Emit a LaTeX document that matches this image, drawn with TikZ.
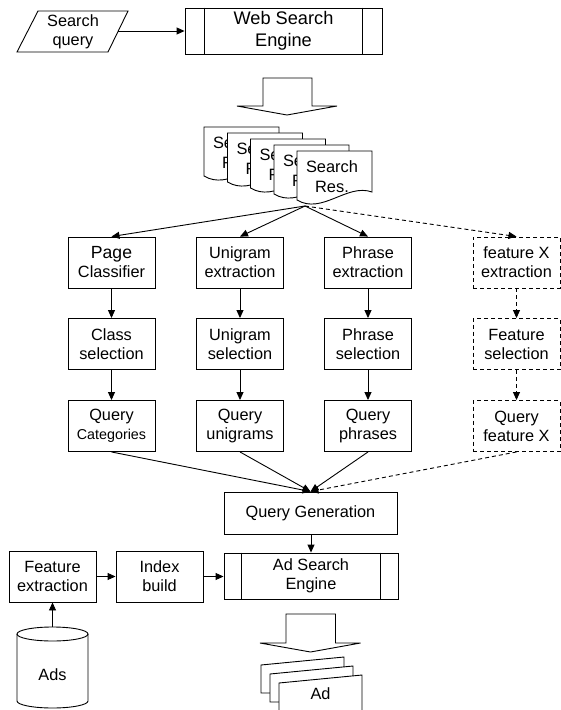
\documentclass[tikz,border=0pt]{standalone}
\usepackage{fontspec}
\setmainfont{Liberation Sans}
\usetikzlibrary{arrows.meta}
\newcommand{\fsz}[2]{\fontsize{#1pt}{#2pt}\selectfont}
\begin{document}
\begin{tikzpicture}[x=1pt,y=-1pt,
  line width=0.9pt,
  arr/.style={-{Triangle[length=8pt,width=7pt]}},
  dsh/.style={dash pattern=on 4pt off 3pt},
  box/.style={draw, fill=white, minimum width=87pt, minimum height=51pt, inner sep=0pt, align=center, font=\fsz{16.3}{19}},
  dbox/.style={box, dsh},
  proc/.style={draw, fill=white, inner sep=0pt, align=center, font=\fsz{16.3}{19}},
  lbl/.style={inner sep=0pt, align=center, font=\fsz{16.3}{19}}]
\useasboundingbox (0,0) rectangle (561,710);

% Search query parallelogram
\draw (38,11) -- (128,11) -- (108,52) -- (17,52) -- cycle;
\node[lbl] (sq) at (73,32) {Search\\query};
\coordinate (sqe) at (118,31);

% Web Search Engine
\node[proc, minimum width=197pt, minimum height=46pt, font=\fsz{18.2}{22}] (wse) at (283.5,31) {Web Search\\Engine};
\draw ([xshift=20pt]wse.north west) -- ([xshift=20pt]wse.south west);
\draw ([xshift=-20pt]wse.north east) -- ([xshift=-20pt]wse.south east);
\draw[arr] (sqe) -- (wse.west);

% block arrow top
\draw (263,78) -- (312,78) -- (312,106) -- (337,106) -- (287,115) -- (237,106) -- (263,106) -- cycle;

% stacked documents
\foreach \i/\x/\y in {1/204/127, 2/227.5/133, 3/250.5/139, 4/274/145, 5/297/151}{
  \draw[fill=white] (\x,\y) -- (\x+75,\y) -- (\x+75,\y+41)
     .. controls (\x+50,\y+32) and (\x+25,\y+64) .. (\x,\y+49) -- cycle;
  \node[lbl, font=\fsz{16.4}{20}] (doc\i) at (\x+35,\y+26) {Search\\Res.};
}
\coordinate (src) at (305,206);

% column boxes
\node[box] (pc) at (111.5,262.5) {{\fsz{17.6}{19}Page}\\Classifier};
\node[box] (ue) at (240,262.5) {Unigram\\extraction};
\node[box] (pe) at (368,262.5) {Phrase\\extraction};
\node[dbox] (fe) at (516.5,262.5) {feature X\\extraction};

\node[box] (cs) at (111.5,344) {Class\\selection};
\node[box] (us) at (240,344) {Unigram\\selection};
\node[box] (ps) at (368,344) {Phrase\\selection};
\node[dbox] (fs) at (516.5,344) {Feature\\selection};

\node[box] (qc) at (111.5,426) {Query\\{\fsz{14.3}{19}Categories}};
\node[box] (qu) at (240,426) {Query\\unigrams};
\node[box] (qp) at (368,426) {Query\\phrases};
\node[dbox] (qf) at (516.5,426) {Query\\feature X};

\draw[arr] (src) -- (pc.north);
\draw[arr] (src) -- (ue.north);
\draw[arr] (src) -- (pe.north);
\draw[arr, dsh] (src) -- (fe.north);

\draw[arr] (pc) -- (cs);
\draw[arr] (ue) -- (us);
\draw[arr] (pe) -- (ps);
\draw[arr, dsh] (fe) -- (fs);
\draw[arr] (cs) -- (qc);
\draw[arr] (us) -- (qu);
\draw[arr] (ps) -- (qp);
\draw[arr, dsh] (fs) -- (qf);

% Query generation
\node[proc, minimum width=173pt, minimum height=42pt] (qg) at (310.5,513) {Query Generation};
\draw[arr] (qc.south) -- (qg.north);
\draw[arr] (qu.south) -- (qg.north);
\draw[arr] (qp.south) -- (qg.north);
\draw[arr, dsh] (qf.south) -- (qg.north);

% Ad Search Engine
\node[proc, minimum width=174pt, minimum height=46pt] (ase) at (311,576) {Ad Search\\Engine};
\draw ([xshift=18pt]ase.north west) -- ([xshift=18pt]ase.south west);
\draw ([xshift=-18pt]ase.north east) -- ([xshift=-18pt]ase.south east);
\draw[arr] (qg.south -| ase.north) -- (ase.north);

% Feature extraction, Index build
\node[box] (fx) at (52.5,576.5) {Feature\\extraction};
\node[box] (ib) at (159.5,576.5) {Index\\build};
\draw[arr] (fx.east) -- (ib.west);
\draw[arr] (ib.east) -- (ase.west |- ib.east);

% Ads cylinder
\draw[fill=white] (17,634) -- (17,701) arc[start angle=180, end angle=360, x radius=35.5, y radius=-7] -- (88,634);
\draw (52.5,634) ellipse[x radius=35.5, y radius=7];
\node[lbl] (ads) at (52.5,675) {Ads};
\coordinate (adstop) at (52.5,627);
\draw[arr] (adstop) -- (fx.south);

% block arrow bottom
\draw (286,614) -- (335.5,614) -- (335.5,643) -- (360.5,643) -- (310.5,652) -- (260,643) -- (286,643) -- cycle;

% Ad cards
\foreach \i/\x/\y in {1/261/665, 2/270/674, 3/279/683}{
  \draw[fill=white] (\x,\y) -- (\x+83,\y-8) -- (\x+83,\y+28) -- (\x,\y+28) -- cycle;
}
\node[lbl] (ad) at (320.5,694) {Ad};
\end{tikzpicture}
\end{document}
